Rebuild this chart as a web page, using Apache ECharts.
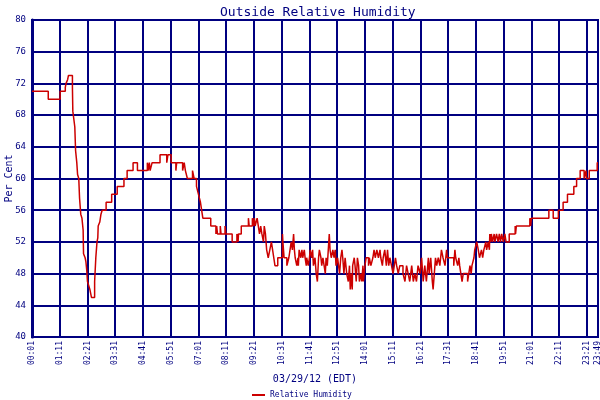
<!DOCTYPE html>
<html>
<head>
<meta charset="utf-8">
<script src="https://cdn.jsdelivr.net/npm/echarts@6/dist/echarts.min.js"></script>
<style>html,body{margin:0;padding:0;background:#fff}#c{width:600px;height:400px}</style>
</head>
<body>
<div id="c"></div>
<script>
// minutes after 00:01 at which the reading changed, and the reading from then on
const minutes = [0,41,71,84,86,90,92,102,103,108,110,113,115,118,120,123,126,129,130,134,136,138,140,143,146,150,158,161,164,166,167,171,174,177,187,201,215,232,240,255,266,291,293,296,298,303,323,340,343,351,363,365,380,384,387,392,405,409,415,420,425,428,431,451,464,466,468,475,477,487,489,505,517,520,521,528,546,548,556,558,561,563,568,571,574,577,580,584,586,589,592,596,600,604,607,610,613,620,626,632,633,636,643,648,651,654,657,660,662,664,668,671,672,674,678,681,683,687,689,692,693,697,700,702,706,708,710,714,717,720,723,725,729,731,734,737,740,742,745,750,751,752,755,759,762,765,767,771,776,779,782,784,787,790,792,794,798,801,803,805,808,809,813,815,818,821,824,826,830,832,835,836,840,843,849,851,855,860,863,866,870,874,878,880,884,886,890,894,897,900,903,907,911,914,917,920,924,928,936,941,945,949,953,958,962,966,970,974,979,983,987,991,995,1000,1002,1006,1010,1012,1015,1018,1021,1025,1029,1033,1037,1042,1046,1048,1064,1067,1069,1074,1077,1079,1082,1085,1088,1099,1102,1105,1108,1110,1115,1117,1122,1126,1129,1134,1137,1140,1145,1147,1151,1154,1155,1157,1159,1162,1166,1168,1172,1176,1179,1182,1185,1189,1193,1196,1204,1219,1220,1222,1256,1258,1260,1304,1315,1328,1340,1351,1367,1374,1383,1393,1398,1399,1406,1426,1428];
const humidity = [71,70,71,71.5,72,72.5,73,71.5,68.5,66.5,63.5,62,60.5,60,57.5,55.5,55,53.5,50.5,50,49.5,48.5,47,46.5,46,45,47,50,52,52.5,54,54.5,55.5,56,57,58,59,60,61,62,61,62,61,62,61,62,63,62,63,62,61,62,61,62,61,60,61,60,59,58,57,56,55,54,53,54,53,54,53,54,53,52,53,52,53,54,55,54,55,54,55,54,55,54,53,54,53,52,54,53,51,50,51,52,51,50,49,50,50,53,52,50,49,50,51,52,51,53,51,50,49,50,49,51,50,51,50,51,50,49,50,49,50,51,50,51,49,50,48,47,50,51,50,49,50,49,48,50,49,53,52,51,50,51,50,51,49,50,48,50,51,50,48,50,49,48,47,49,46,48,46,49,50,49,47,50,49,47,48,47,49,47,49,50,49,50,49,50,51,50,51,50,51,50,49,50,51,49,51,49,50,49,48,49,50,49,48,49,48,47,49,48,47,49,47,48,47,49,48,50,47,49,47,50,48,50,47,46,48,50,49,50,49,51,50,49,51,50,49,51,50,49,50,49,48,47,48,47,48,49,48,49,50,51,52,51,50,51,50,51,52,51,52,51,53,52,53,52,53,52,53,52,53,52,53,52,53,52,53,54,53,54,55,54,55,56,55,56,57,58,59,60,61,60,61,60,61,62,62];
const yTicks = {min: 40, max: 80, step: 4};
const xTicks = {min: 0, max: 1428, step: 70};
const dayStartMinute = 1;

const navy = '#000080';
const mono = 'DejaVu Sans Mono';
function hhmm(v) {
  const t = v + dayStartMinute;
  const h = Math.floor(t / 60), m = t % 60;
  return String(h).padStart(2, '0') + ':' + String(m).padStart(2, '0');
}
const chart = echarts.init(document.getElementById('c'), null, {renderer: 'canvas'});
chart.setOption({
  animation: false,
  backgroundColor: '#fff',
  title: {
    text: 'Outside Relative Humidity',
    left: 215, top: 1,
    textStyle: {fontFamily: mono, fontSize: 13, fontWeight: 'normal', color: navy}
  },
  grid: {left: 32, right: 2, top: 20, bottom: 63, containLabel: false, outerBoundsMode: 'none',
         show: true, borderColor: navy, borderWidth: 2, backgroundColor: '#fff'},
  legend: {
    left: 247, top: 386,
    icon: 'rect', itemWidth: 13, itemHeight: 2, itemGap: 4,
    textStyle: {fontFamily: mono, fontSize: 8, color: navy},
    data: ['Relative Humidity']
  },
  xAxis: {
    type: 'value', min: xTicks.min, max: xTicks.max, interval: xTicks.step,
    name: '03/29/12 (EDT)', nameLocation: 'middle', nameGap: 37,
    nameTextStyle: {fontFamily: mono, fontSize: 10, color: navy},
    axisLine: {lineStyle: {color: navy, width: 2}},
    axisTick: {show: false},
    axisLabel: {rotate: 90, formatter: hhmm, fontFamily: mono, fontSize: 8, color: navy, margin: 4, showMaxLabel: true, showMinLabel: true},
    splitLine: {show: true, lineStyle: {color: navy, width: 2}}
  },
  yAxis: {
    type: 'value', min: yTicks.min, max: yTicks.max, interval: yTicks.step,
    name: 'Per Cent', nameLocation: 'middle', nameGap: 18, nameRotate: 90, nameMoveOverlap: false,
    nameTextStyle: {fontFamily: mono, fontSize: 10, color: navy},
    axisLine: {show: true, lineStyle: {color: navy, width: 3}},
    axisTick: {show: false},
    axisLabel: {fontFamily: mono, fontSize: 9, color: navy, margin: 6},
    splitLine: {show: true, lineStyle: {color: navy, width: 2}}
  },
  series: [{
    name: 'Relative Humidity',
    type: 'line', step: 'end', showSymbol: false,
    color: '#cc0000',
    lineStyle: {color: '#cc0000', width: 1.5},
    data: minutes.map((m, i) => [m, humidity[i]])
  }]
});
</script>
</body>
</html>
